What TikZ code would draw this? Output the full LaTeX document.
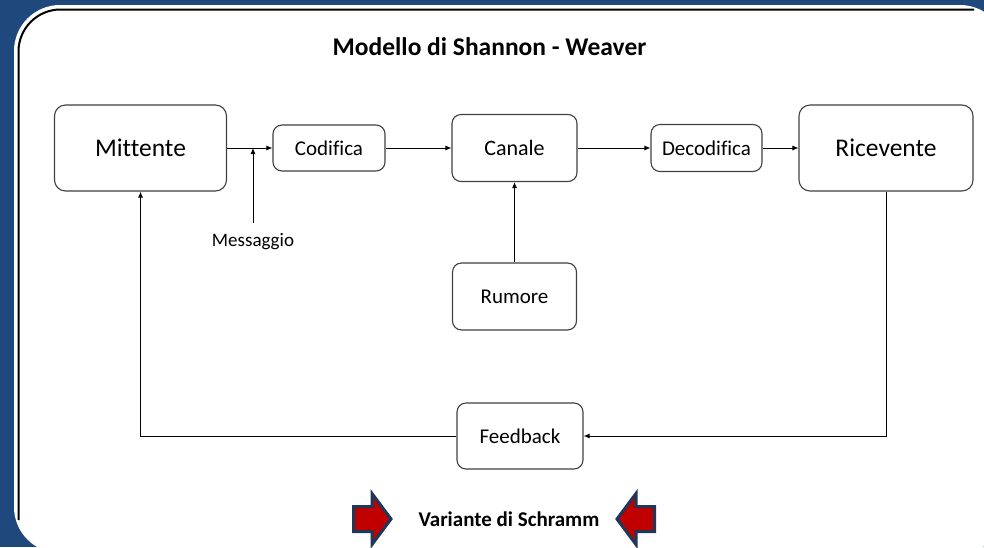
\documentclass[tikz,border=0pt]{standalone}
\usepackage{fontspec}
\setmainfont[Ligatures={NoCommon}]{Carlito}
\usetikzlibrary{arrows.meta}
\definecolor{bgblue}{RGB}{31,73,125}
\definecolor{boxgray}{RGB}{64,64,64}
\definecolor{arrred}{RGB}{192,0,0}
\definecolor{arrnavy}{RGB}{31,56,88}
\begin{document}
\begin{tikzpicture}[x=1pt,y=-1pt,
  box/.style={draw=boxgray, line width=1.1pt, rounded corners=9pt, fill=white, align=center, inner sep=0pt},
  bigbox/.style={box, minimum width=172pt, minimum height=86pt, rounded corners=11pt, font=\fontsize{25.5}{30}\selectfont},
  smallbox/.style={box, font=\fontsize{21}{24}\selectfont},
  conn/.style={draw=black, line width=0.9pt, -{Latex[length=6pt,width=5pt]}},
  bigarrow/.style={draw=arrnavy, fill=arrred, line width=3pt, line join=miter}]
\useasboundingbox (0,0) rectangle (984,547);
\clip (0,0) rectangle (984,547);
\fill[bgblue] (0,0) rectangle (984,547);
% panel
\draw[white, line width=2pt, fill=white, rounded corners=45pt] (15,6) rectangle (1005,552);
\draw[black, line width=2pt, rounded corners=42pt] (18.5,520) -- (18.5,9.5) -- (974,9.5);
% title
\node[font=\bfseries\fontsize{25.5}{30}\selectfont] (title) at (489.5,47) {Modello di Shannon - Weaver};
% boxes
\node[bigbox] (mit) at (140.5,148) {Mittente};
\node[smallbox, minimum width=112pt, minimum height=46pt] (cod) at (329,148) {Codifica};
\node[smallbox, minimum width=125pt, minimum height=67pt, font=\fontsize{22}{26}\selectfont] (can) at (514.5,148) {Canale};
\node[smallbox, minimum width=111pt, minimum height=47pt] (dec) at (706.5,148) {Decodifica};
\node[bigbox, minimum width=174pt] (ric) at (886,148) {Ricevente};
\node[smallbox, minimum width=124pt, minimum height=67pt] (rum) at (514.5,296.5) {Rumore};
\node[smallbox, minimum width=126pt, minimum height=66pt] (fb) at (520,436) {Feedback};
\node[font=\fontsize{19}{22}\selectfont] (msg) at (253,242) {Messaggio};
\coordinate (mj) at (253,148);
% connectors
\draw[conn] (mit.east) -- (cod.west);
\draw[conn] ([yshift=7pt]msg.north) -- (mj);
\draw[conn] (cod.east) -- (can.west);
\draw[conn] (can.east) -- (dec.west);
\draw[conn] (dec.east) -- (ric.west);
\draw[conn] (rum.north) -- (can.south);
\draw[conn] (ric.south) |- (fb.east);
\draw[conn] (fb.west) -| (mit.south);
% bottom
\draw[bigarrow] (353.5,506.5) -- (372,506.5) -- (372,493.5) -- (391,519) -- (372,544.5) -- (372,531.5) -- (353.5,531.5) -- cycle;
\draw[bigarrow] (654.5,506.5) -- (636,506.5) -- (636,493.5) -- (617,519) -- (636,544.5) -- (636,531.5) -- (654.5,531.5) -- cycle;
\node[font=\bfseries\fontsize{21}{25}\selectfont] (var) at (509,519) {Variante di Schramm};
\end{tikzpicture}
\end{document}
